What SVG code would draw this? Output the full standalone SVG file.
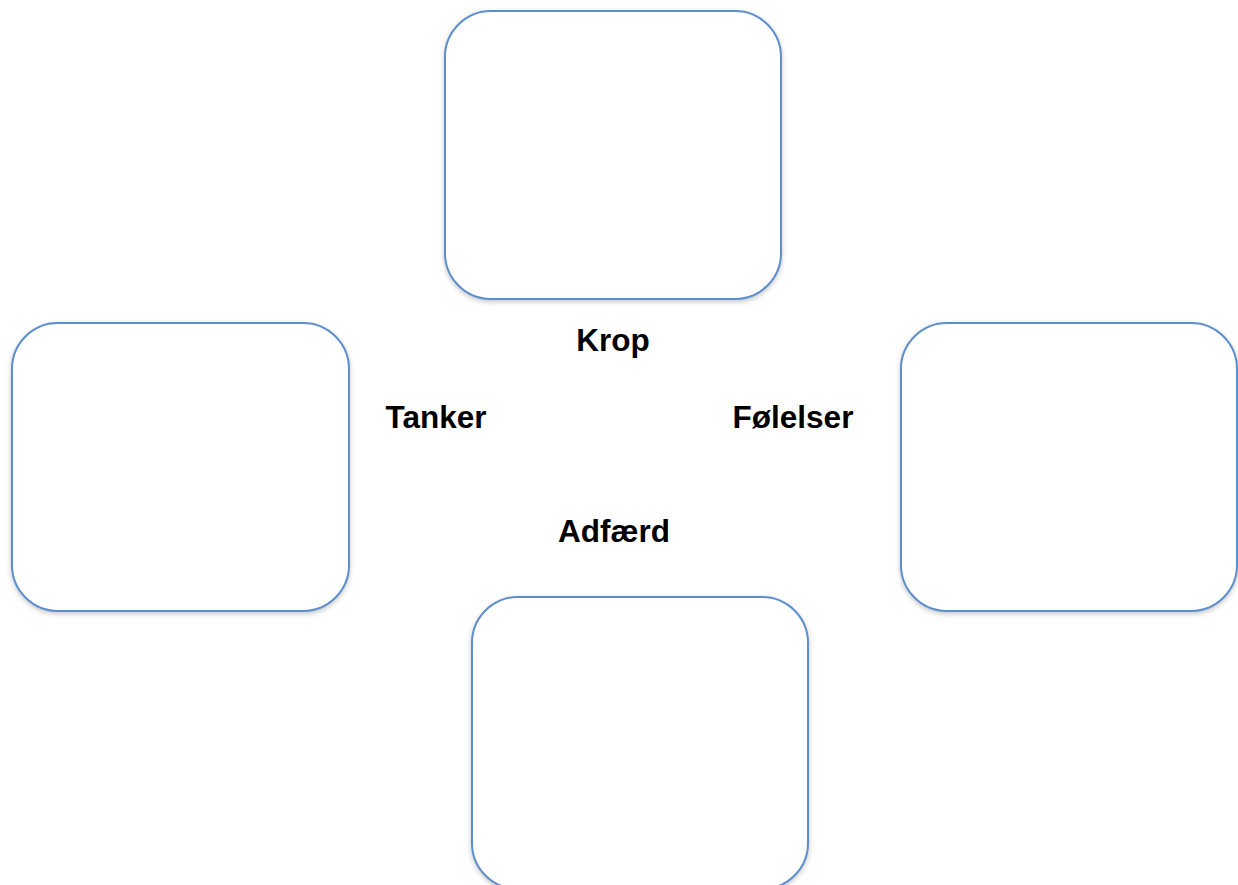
<svg xmlns="http://www.w3.org/2000/svg" width="1238" height="885" viewBox="0 0 1238 885">
  <defs>
    <filter id="soft" x="-10%" y="-10%" width="120%" height="120%">
      <feDropShadow dx="0" dy="2" stdDeviation="2.5" flood-color="#808080" flood-opacity="0.45"/>
    </filter>
  </defs>
  <style>
    .box { fill: #ffffff; stroke: #5b8fcc; stroke-width: 2; filter: url(#soft); }
    .label { font-family: "Liberation Sans", Arial, sans-serif; font-weight: bold; font-size: 31.5px; fill: #000000; text-anchor: middle; }
  </style>
  <rect width="1238" height="885" fill="#ffffff"/>

  <g id="box-top">
    <rect class="box" x="445" y="11" width="336" height="288" rx="46" ry="46"/>
  </g>
  <g id="box-left">
    <rect class="box" x="12" y="323" width="337" height="288" rx="46" ry="46"/>
  </g>
  <g id="box-right">
    <rect class="box" x="901" y="323" width="336" height="288" rx="46" ry="46"/>
  </g>
  <g id="box-bottom">
    <rect class="box" x="472" y="597" width="336" height="292" rx="46" ry="46"/>
  </g>

  <g id="connectors"></g>

  <g id="labels">
    <text class="label" x="613" y="351">Krop</text>
    <text class="label" x="436" y="428">Tanker</text>
    <text class="label" x="793" y="428">Følelser</text>
    <text class="label" x="614" y="542">Adfærd</text>
  </g>
</svg>
